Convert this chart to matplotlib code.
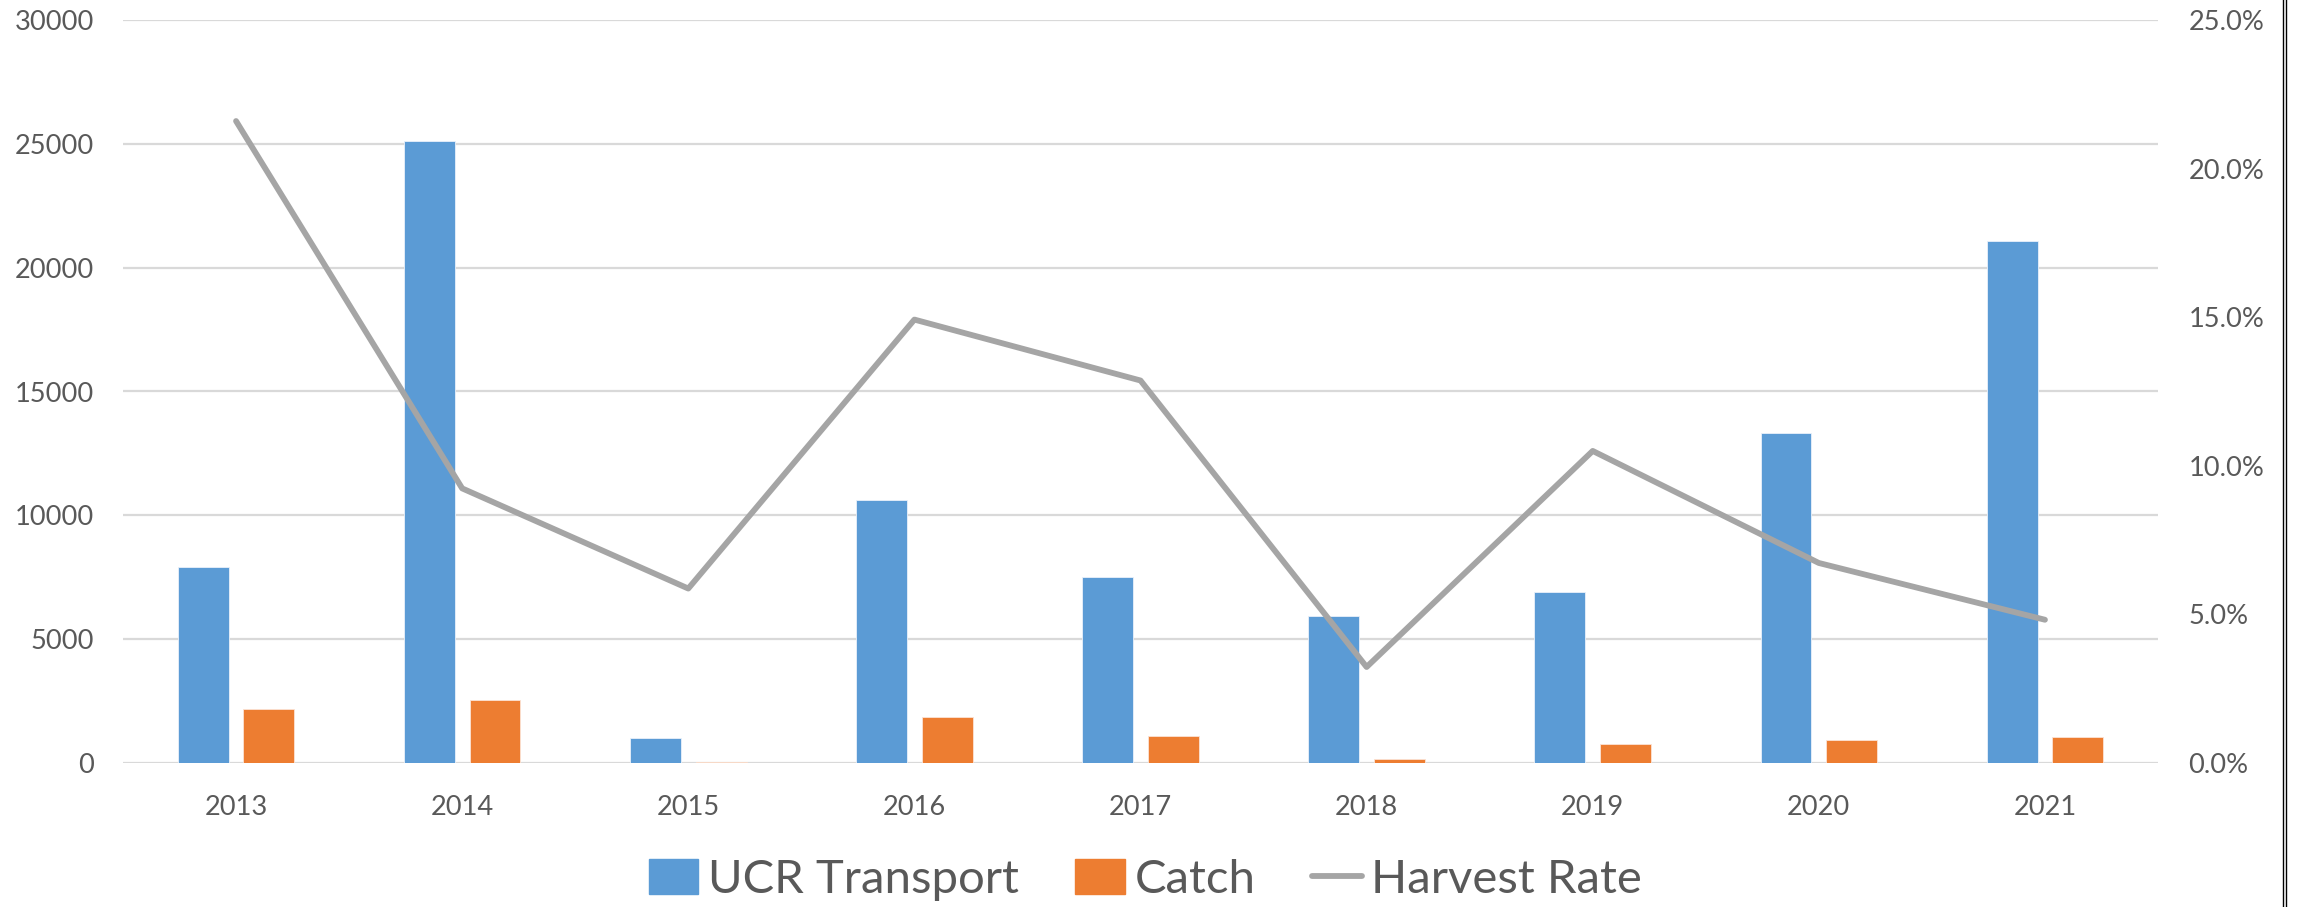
import matplotlib
matplotlib.use("Agg")
import matplotlib.pyplot as plt
from matplotlib.ticker import FuncFormatter, MultipleLocator
from matplotlib.lines import Line2D
import numpy as np

years = ["2013", "2014", "2015", "2016", "2017", "2018", "2019", "2020", "2021"]
ucr_transport = [7910, 25100, 1010, 10610, 7500, 5950, 6920, 13310, 21090]
catch = [2170, 2530, 60, 1850, 1100, 175, 780, 940, 1050]
harvest_rate = [21.6, 9.24, 5.87, 14.92, 12.87, 3.23, 10.5, 6.73, 4.82]

BLUE = "#5B9BD5"
ORANGE = "#ED7D31"
GRAY = "#A5A5A5"
TEXT = "#595959"
GRID = "#D9D9D9"

plt.rcParams['font.family'] = ['Lato', 'DejaVu Sans']

fig = plt.figure(figsize=(23, 9.07), dpi=100)
ax = fig.add_axes([123/2300, 1-763/907, (2158-123)/2300, (763-20)/907])

x = np.arange(len(years))
w = 0.225
off = 0.145
ax.bar(x - off, ucr_transport, width=w, color=BLUE, edgecolor="#EAF1FA", linewidth=0.6, zorder=2)
ax.bar(x + off, catch, width=w, color=ORANGE, edgecolor="#FBE3D5", linewidth=0.6, zorder=2)

ax.set_xlim(-0.5, len(years) - 0.5)
ax.set_ylim(0, 30000)
ax.yaxis.set_major_locator(MultipleLocator(5000))
ax.grid(axis='y', color=GRID, linewidth=1.6, zorder=0)
ax.set_axisbelow(True)
for s in ax.spines.values():
    s.set_visible(False)
ax.set_xticks(x)
ax.set_xticklabels(years)
ax.tick_params(axis='x', length=0, pad=23, labelsize=19.6, labelcolor=TEXT)
ax.tick_params(axis='y', length=0, pad=21, labelsize=19.6, labelcolor=TEXT)

ax2 = ax.twinx()
ax2.plot(x, [v / 100 for v in harvest_rate], color=GRAY, linewidth=4.2,
         solid_capstyle='round', solid_joinstyle='round', zorder=3)
ax2.set_ylim(0, 0.25)
ax2.yaxis.set_major_locator(MultipleLocator(0.05))
ax2.yaxis.set_major_formatter(FuncFormatter(lambda v, p: f"{v*100:.1f}%"))
ax2.tick_params(axis='y', length=0, pad=22, labelsize=19.6, labelcolor=TEXT)
for s in ax2.spines.values():
    s.set_visible(False)

handles = [
    plt.Rectangle((0, 0), 1, 1, color=BLUE),
    plt.Rectangle((0, 0), 1, 1, color=ORANGE),
    Line2D([0], [0], color=GRAY, linewidth=4.2, solid_capstyle='round'),
]
labels = ["UCR Transport", "Catch", "Harvest Rate"]
leg = fig.legend(handles, labels, loc='center', bbox_to_anchor=(0.498, 1-880/907),
                 ncol=3, frameon=False, fontsize=34, handlelength=1.05,
                 handleheight=0.75, handletextpad=0.2, columnspacing=1.2,
                 labelcolor=TEXT, borderaxespad=0)

# right border (double line)
fig.add_artist(Line2D([2282.5/2300, 2282.5/2300], [0, 1], transform=fig.transFigure,
                      color="black", linewidth=1.0))
fig.add_artist(Line2D([2285.5/2300, 2285.5/2300], [0, 1], transform=fig.transFigure,
                      color="black", linewidth=1.0))

fig.savefig("out.png", dpi=100, facecolor="white")
